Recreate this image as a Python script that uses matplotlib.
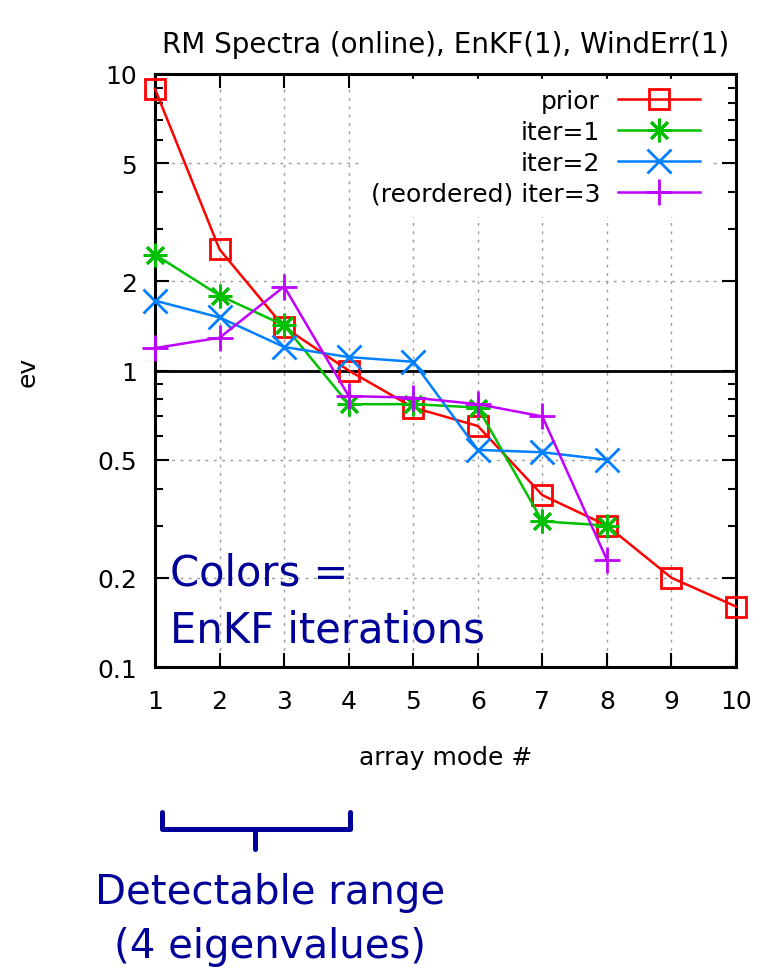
import matplotlib
matplotlib.use('Agg')
import matplotlib.pyplot as plt
from matplotlib.lines import Line2D
from matplotlib.ticker import FixedLocator, NullFormatter

# -- data
modes = [1, 2, 3, 4, 5, 6, 7, 8, 9, 10]
prior = [8.9, 2.56, 1.40, 1.0, 0.75, 0.65, 0.38, 0.30, 0.20, 0.16]
iter1 = [2.46, 1.79, 1.42, 0.77, 0.77, 0.75, 0.31, 0.30]
iter2 = [1.72, 1.51, 1.20, 1.11, 1.07, 0.54, 0.53, 0.50]
iter3 = [1.19, 1.29, 1.92, 0.82, 0.81, 0.77, 0.70, 0.23]
yticks = [0.1, 0.2, 0.5, 1, 2, 5, 10]
ytick_labels = ['0.1', '0.2', '0.5', '1', '2', '5', '10']

plt.rcParams['font.family'] = ['DejaVu Sans']
navy = '#000099'
fs = 18

fig = plt.figure(figsize=(7.69, 9.70), dpi=100)
ax = fig.add_axes([0.2016, 0.3113, 0.7555, 0.6114])

lw = 1.8
ax.plot(modes, prior, color='#ff0000', lw=lw, marker='s', ms=14, mfc='none', mew=2, label='prior', zorder=5, clip_on=False)
ax.plot(modes[:len(iter1)], iter1, color='#00c000', lw=lw, marker=(8, 2, 0), ms=17, mew=2, label='iter=1', zorder=5, clip_on=False)
ax.plot(modes[:len(iter2)], iter2, color='#0080ff', lw=lw, marker='x', ms=17, mew=2, label='iter=2', zorder=5, clip_on=False)
ax.plot(modes[:len(iter3)], iter3, color='#c000ff', lw=lw, marker='+', ms=19, mew=2, label='(reordered) iter=3', zorder=5, clip_on=False)
ax.axhline(1, color='black', lw=2, zorder=4)

ax.set_yscale('log')
ax.set_xlim(1, 10)
ax.set_ylim(0.1, 10)
ax.set_xticks(modes)
ax.yaxis.set_major_locator(FixedLocator(yticks))
ax.set_yticklabels(ytick_labels)
ax.yaxis.set_minor_formatter(NullFormatter())
ax.tick_params(which='both', direction='in', top=True, right=True, labelsize=fs, width=1.5)
ax.tick_params(which='major', length=10)
ax.tick_params(axis='y', which='major', pad=13)
ax.tick_params(axis='x', which='major', pad=16)
ax.tick_params(which='minor', length=6)
ax.grid(True, which='major', ls=(0, (2, 4)), color='#999999', lw=1)
for s in ax.spines.values():
    s.set_linewidth(2.2)

ax.set_xlabel('array mode #', fontsize=fs, va='top')
ax.xaxis.set_label_coords(0.5, -0.132)
ax.set_ylabel('ev', fontsize=fs)
ax.yaxis.set_label_coords(-0.198, 0.5)
ax.set_title('RM Spectra (online), EnKF(1), WindErr(1)', fontsize=20, pad=16)

leg = ax.legend(loc='upper right', bbox_to_anchor=(0.964, 1.0), markerfirst=False, frameon=True,
                fontsize=fs, handlelength=3.3, handletextpad=0.7, labelspacing=0.28,
                borderaxespad=0.2, borderpad=0.4,
                fancybox=False, edgecolor='white', framealpha=1)
for t in leg.get_texts():
    t.set_ha('right')
leg.set_zorder(3)

ax.text(0.025, 0.194, 'Colors =\nEnKF iterations', transform=ax.transAxes, color=navy,
        fontsize=30, va='top', linespacing=1.45, zorder=6)

# bracket under modes 1-4
fx = lambda px: px / 769.0
fy = lambda py: 1 - py / 970.0
bw = 3.6
fig.add_artist(Line2D([fx(162), fx(162), fx(350), fx(350)], [fy(813), fy(830), fy(830), fy(813)],
                      color=navy, lw=bw, solid_capstyle='round', solid_joinstyle='round'))
fig.add_artist(Line2D([fx(255), fx(255)], [fy(830), fy(850)], color=navy, lw=bw, solid_capstyle='round'))
fig.text(fx(270), fy(873), 'Detectable range\n(4 eigenvalues)', color=navy, fontsize=29,
         ha='center', va='top', linespacing=1.45)

plt.savefig('out.png', dpi=100)
